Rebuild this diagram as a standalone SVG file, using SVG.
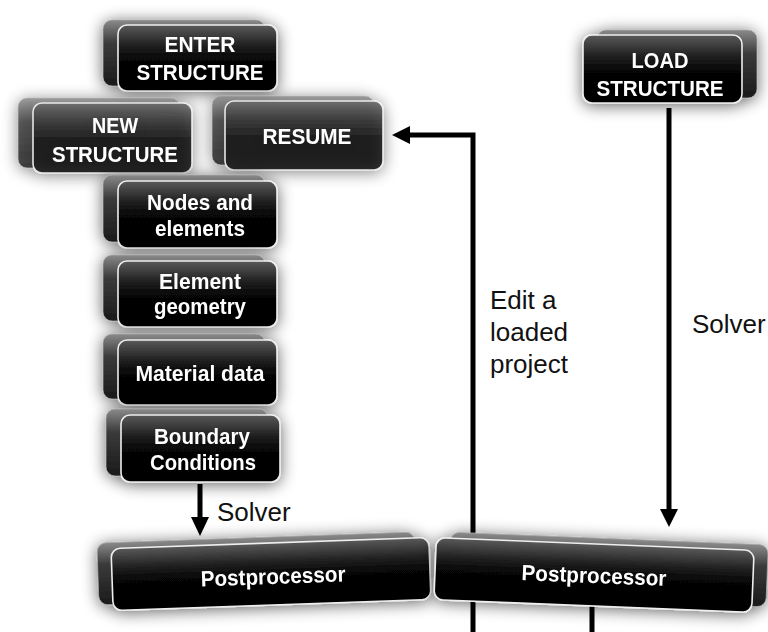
<svg xmlns="http://www.w3.org/2000/svg" width="768" height="632" viewBox="0 0 768 632">
<defs>
<linearGradient id="faceGrad" x1="0" y1="0" x2="0" y2="1">
<stop offset="0" stop-color="#5a5a5a"/>
<stop offset="0.3" stop-color="#222"/>
<stop offset="0.5" stop-color="#070707"/>
<stop offset="1" stop-color="#000"/>
</linearGradient>
<linearGradient id="backGrad" x1="0" y1="0" x2="0" y2="1">
<stop offset="0" stop-color="#8a8a8a"/>
<stop offset="0.35" stop-color="#3a3a3a"/>
<stop offset="1" stop-color="#1a1a1a"/>
</linearGradient>
<filter id="glow" x="-25%" y="-40%" width="150%" height="180%">
<feGaussianBlur in="SourceAlpha" stdDeviation="8"/>
<feComponentTransfer><feFuncA type="linear" slope="0.6"/></feComponentTransfer>
<feOffset dx="0" dy="2"/>
<feMerge><feMergeNode/><feMergeNode in="SourceGraphic"/></feMerge>
</filter>
</defs>
<style>
.back{fill:url(#backGrad);stroke:#aaa;stroke-width:0.8}
.face{fill:url(#faceGrad);stroke:#eee;stroke-width:1.6}
.lbl{font-family:"Liberation Sans",Arial,sans-serif;font-weight:bold;font-size:22px;fill:#fff;text-anchor:middle}
.plain{font-family:"Liberation Sans",Arial,sans-serif;font-size:26px;fill:#111}
.ln{stroke:#000;stroke-width:5;fill:none}
.hd{fill:#000}
.dim{opacity:0.78}
</style>
<rect width="768" height="632" fill="#fff"/>

<g id="connectors">
<path class="ln" d="M473,632 V135 H408"/>
<polygon class="hd" points="410,126 392,135 410,144"/>
<line class="ln" x1="200" y1="484" x2="200" y2="519"/>
<polygon class="hd" points="191,517 209,517 200,536"/>
<line class="ln" x1="669" y1="108" x2="669" y2="511"/>
<polygon class="hd" points="660,509 678,509 669,527"/>
<line class="ln" x1="592" y1="600" x2="592" y2="632"/>
</g>

<g id="labels">
<text class="plain" x="217" y="521">Solver</text>
<text class="plain" x="490" y="309">Edit a</text>
<text class="plain" x="490" y="341">loaded</text>
<text class="plain" x="490" y="373">project</text>
<text class="plain" x="692" y="333">Solver</text>
</g>

<g id="enter-structure" filter="url(#glow)">
<rect class="back" x="103" y="20" width="162" height="66" rx="9"/>
<rect class="face" x="118" y="25" width="159" height="66" rx="9"/>
<text class="lbl" x="200" y="52" textLength="71" lengthAdjust="spacingAndGlyphs">ENTER</text>
<text class="lbl" x="200" y="80" textLength="127" lengthAdjust="spacingAndGlyphs">STRUCTURE</text>
</g>

<g id="new-structure" filter="url(#glow)">
<g class="dim">
<rect class="back" x="18" y="98" width="162" height="70" rx="9"/>
<rect class="face" x="33" y="103" width="159" height="70" rx="9"/>
</g>
<text class="lbl" x="115" y="133" textLength="46" lengthAdjust="spacingAndGlyphs">NEW</text>
<text class="lbl" x="115" y="162" textLength="126" lengthAdjust="spacingAndGlyphs">STRUCTURE</text>
</g>

<g id="resume" filter="url(#glow)">
<g class="dim">
<rect class="back" x="212" y="96" width="162" height="69" rx="9"/>
<rect class="face" x="225" y="101" width="158" height="69" rx="9"/>
</g>
<text class="lbl" x="307" y="144" textLength="89" lengthAdjust="spacingAndGlyphs">RESUME</text>
</g>

<g id="nodes-elements" filter="url(#glow)">
<rect class="back" x="103" y="175" width="162" height="67" rx="9"/>
<rect class="face" x="118" y="181" width="159" height="67" rx="9"/>
<text class="lbl" x="200" y="210" textLength="106" lengthAdjust="spacingAndGlyphs">Nodes and</text>
<text class="lbl" x="200" y="236" textLength="90" lengthAdjust="spacingAndGlyphs">elements</text>
</g>

<g id="element-geometry" filter="url(#glow)">
<rect class="back" x="103" y="255" width="162" height="66" rx="9"/>
<rect class="face" x="118" y="261" width="159" height="66" rx="9"/>
<text class="lbl" x="200" y="289" textLength="82" lengthAdjust="spacingAndGlyphs">Element</text>
<text class="lbl" x="200" y="314" textLength="92" lengthAdjust="spacingAndGlyphs">geometry</text>
</g>

<g id="material-data" filter="url(#glow)">
<rect class="back" x="103" y="334" width="162" height="65" rx="9"/>
<rect class="face" x="118" y="340" width="159" height="65" rx="9"/>
<text class="lbl" x="200" y="381" textLength="129" lengthAdjust="spacingAndGlyphs">Material data</text>
</g>

<g id="boundary-conditions" filter="url(#glow)">
<rect class="back" x="106" y="409" width="162" height="67" rx="9"/>
<rect class="face" x="121" y="415" width="159" height="67" rx="9"/>
<text class="lbl" x="202" y="444" textLength="96" lengthAdjust="spacingAndGlyphs">Boundary</text>
<text class="lbl" x="203" y="470" textLength="106" lengthAdjust="spacingAndGlyphs">Conditions</text>
</g>

<g id="load-structure" filter="url(#glow)">
<rect class="back" x="597" y="30" width="160" height="68" rx="9"/>
<rect class="face" x="583" y="35" width="159" height="68" rx="9"/>
<text class="lbl" x="660" y="68" textLength="57" lengthAdjust="spacingAndGlyphs">LOAD</text>
<text class="lbl" x="660" y="96" textLength="127" lengthAdjust="spacingAndGlyphs">STRUCTURE</text>
</g>

<g id="postprocessor-left" filter="url(#glow)">
<g transform="rotate(-2 271 574)">
<rect class="back" x="98" y="537" width="318" height="62" rx="9"/>
<rect class="face" x="112" y="543" width="318" height="62" rx="9"/>
<text class="lbl" x="273" y="584" textLength="145" lengthAdjust="spacingAndGlyphs">Postprocessor</text>
</g>
</g>

<g id="postprocessor-right" filter="url(#glow)">
<g transform="rotate(2.3 594 575)">
<rect class="back" x="449" y="538" width="318" height="62" rx="9"/>
<rect class="face" x="435" y="544" width="318" height="62" rx="9"/>
<text class="lbl" x="594" y="583" textLength="145" lengthAdjust="spacingAndGlyphs">Postprocessor</text>
</g>
</g>
</svg>
